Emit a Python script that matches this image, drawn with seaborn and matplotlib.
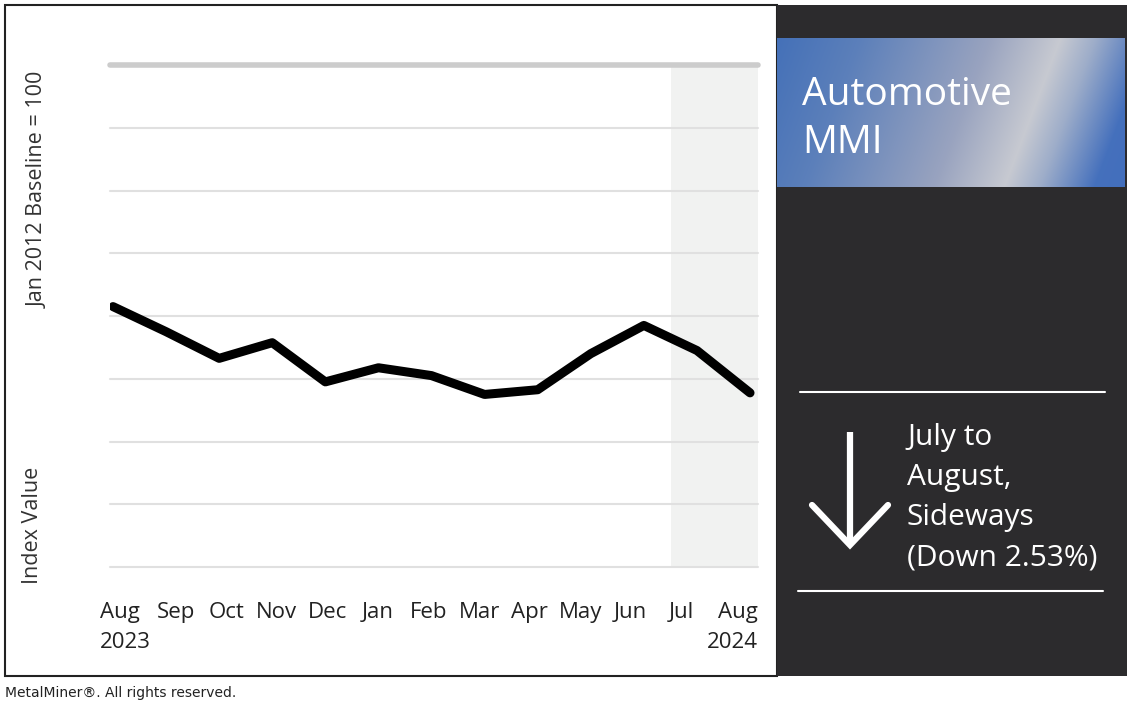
import numpy as np
import pandas as pd
import matplotlib
matplotlib.use("Agg")
import matplotlib.pyplot as plt
import matplotlib.transforms as mtransforms
from matplotlib.patches import Rectangle
import seaborn as sns

# data (no y scale shown, index units estimated)
periods = ["2023-08", "2023-09", "2023-10", "2023-11", "2023-12", "2024-01", "2024-02",
           "2024-03", "2024-04", "2024-05", "2024-06", "2024-07", "2024-08"]
month_labels = ["Aug\n2023", "Sep", "Oct", "Nov", "Dec", "Jan", "Feb",
                "Mar", "Apr", "May", "Jun", "Jul", "Aug\n2024"]
index_values = [108.6, 107.0, 105.3, 106.3, 103.8, 104.7, 104.2,
                103.0, 103.3, 105.6, 107.4, 105.8, 103.1]
grid_levels = [92, 96, 100, 104, 108, 112, 116, 120, 124]
summary_lines = ["July to", "August,", "Sideways", "(Down 2.53%)"]

sns.set_theme(style="white")
plt.rcParams["font.family"] = ["Open Sans", "DejaVu Sans"]

W, H = 1140, 712
fig = plt.figure(figsize=(W / 100, H / 100), dpi=100)

# background canvas in pixel coords
bg = fig.add_axes([0, 0, 1, 1], zorder=0)
bg.axis("off")
bg.add_patch(Rectangle((5, 5), 772, 671, facecolor="white", edgecolor="#222222", lw=1.5))
bg.add_patch(Rectangle((777, 5), 350, 671, facecolor="#2c2b2d", edgecolor="none"))

# gradient banner
U, V = np.meshgrid(np.arange(348), np.arange(149))
d = U - (283 - 56 * V / 148)
stops = [-300, -200, -70, 0, 35, 90, 200]
r = [0.25, 0.36, 0.60, 0.78, 0.62, 0.27, 0.24]
g = [0.43, 0.50, 0.64, 0.79, 0.68, 0.44, 0.42]
b = [0.72, 0.73, 0.75, 0.82, 0.79, 0.74, 0.73]
img = np.dstack([np.interp(d, stops, r), np.interp(d, stops, g), np.interp(d, stops, b)])
bg.imshow(img, extent=(777, 1125, 187, 38), aspect="auto", interpolation="bilinear", zorder=2)
bg.set_xlim(0, W)
bg.set_ylim(H, 0)

bg.text(802, 105, "Automotive", color="white", fontsize=28, va="baseline", zorder=3)
bg.text(802, 153, "MMI", color="white", fontsize=28, va="baseline", zorder=3)

bg.plot([800, 1105], [392, 392], color="white", lw=1.5)
bg.plot([798, 1103], [591, 591], color="white", lw=1.5)
bg.plot([850, 850], [432, 544], color="white", lw=4.5, solid_capstyle="butt")
bg.plot([812, 850, 888], [505, 545, 505], color="white", lw=4.5, solid_joinstyle="miter")
for i, line in enumerate(summary_lines):
    bg.text(907, 445 + 40 * i, line, color="white", fontsize=21.5, va="baseline")

# main chart
ax = fig.add_axes([110 / W, (H - 567) / H, 648 / W, 502 / H], zorder=1)
ax.patch.set_alpha(0)
df = pd.DataFrame({"period": periods, "index": index_values})
sns.lineplot(data=df, x="period", y="index", color="black", lw=6.5, sort=False, ax=ax,
             solid_capstyle="round", solid_joinstyle="round", zorder=3)

x0, x1 = -0.0565, 12.15
ax.set_xlim(x0, x1)
ax.set_ylim(grid_levels[0], grid_levels[-1])
ax.axvspan(10.51, x1, color="#f1f2f1", zorder=0, lw=0)
for lvl in grid_levels[:-1]:
    ax.axhline(lvl, color="#e0e0e0", lw=1.5, zorder=1, clip_on=False)
ax.axhline(grid_levels[-1], color="#cccccc", lw=4, zorder=1, clip_on=False)

ax.set_yticks([])
ax.set_xticks(range(len(month_labels)))
ax.set_xticklabels(month_labels, fontsize=16, color="#222222", linespacing=1.55)
ax.tick_params(axis="x", length=0, pad=25)
for i, lab in enumerate(ax.get_xticklabels()):
    lab.set_transform(lab.get_transform() +
                      mtransforms.ScaledTranslation((12 - 2.5 * i) / 100, 0, fig.dpi_scale_trans))
    if i == 0:
        lab.set_multialignment("left")
    elif i == len(month_labels) - 1:
        lab.set_multialignment("right")
ax.set_xlabel("")
ax.set_ylabel("")
sns.despine(ax=ax, left=True, bottom=True)

fig.text(38 / W, 1 - 190 / H, "Jan 2012 Baseline = 100", rotation=90, ha="center", va="center",
         fontsize=15.5, color="#333333")
fig.text(33 / W, 1 - 525 / H, "Index Value", rotation=90, ha="center", va="center",
         fontsize=15.5, color="#333333")
fig.text(5 / W, 1 - 693 / H, "MetalMiner\u00ae. All rights reserved.", fontsize=10,
         family="DejaVu Sans", va="center", color="#222222")

fig.savefig("out.png", dpi=100)
